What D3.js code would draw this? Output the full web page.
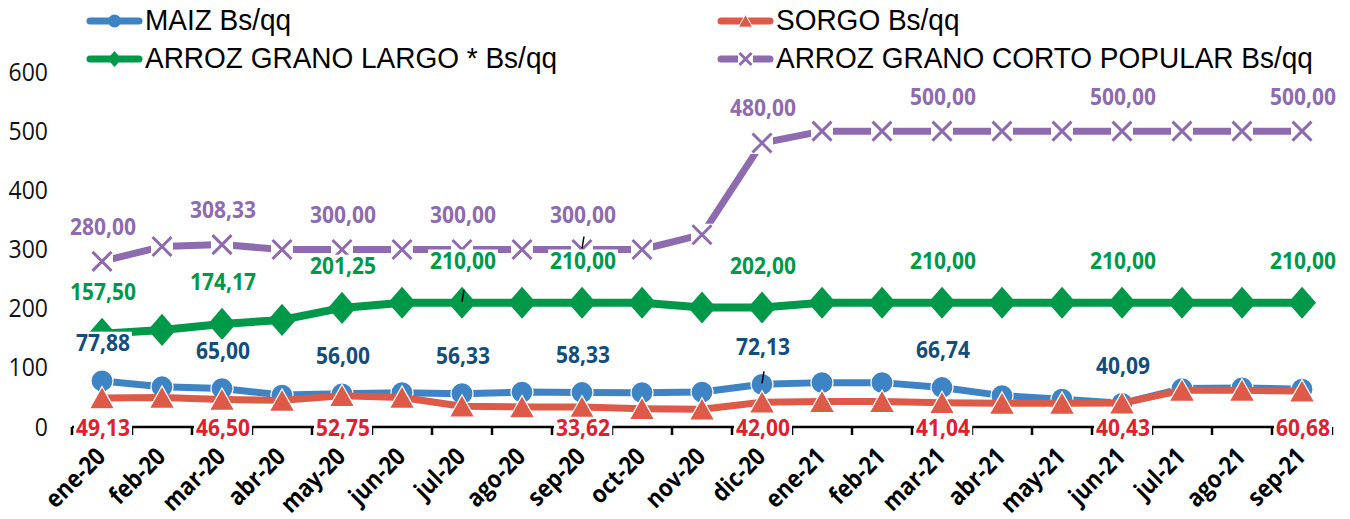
<!DOCTYPE html>
<html>
<head>
<meta charset="utf-8">
<script src="https://cdnjs.cloudflare.com/ajax/libs/d3/7.8.5/d3.min.js"></script>
<style>
  html, body { margin: 0; padding: 0; background: #fff; }
  svg { display: block; }
</style>
</head>
<body>
<svg width="1350" height="519"></svg>
<script>
// categorias (meses)
const meses = ['ene-20', 'feb-20', 'mar-20', 'abr-20', 'may-20', 'jun-20', 'jul-20', 'ago-20',
  'sep-20', 'oct-20', 'nov-20', 'dic-20', 'ene-21', 'feb-21', 'mar-21', 'abr-21', 'may-21',
  'jun-21', 'jul-21', 'ago-21', 'sep-21'];

// precios Bs/qq
const maiz = [77.88, 68, 65.00, 54, 56.00, 58, 56.33, 59, 58.33, 58, 59, 72.13, 75, 75,
  66.74, 53, 47, 40.09, 65, 66, 64];
const sorgo = [49.13, 50, 46.50, 45, 52.75, 50, 35, 34, 33.62, 31, 30, 42.00, 43, 43,
  41.04, 40, 40, 40.43, 62, 62, 60.68];
const arrozLargo = [157.50, 164, 174.17, 181, 201.25, 210, 210.00, 210, 210.00, 210, 202,
  202.00, 210, 210, 210.00, 210, 210, 210.00, 210, 210, 210.00];
const arrozCorto = [280.00, 305, 308.33, 300, 300.00, 300, 300.00, 300, 300.00, 300, 325,
  480.00, 500, 500, 500.00, 500, 500, 500.00, 500, 500, 500.00];

// puntos con etiqueta de dato (indices)
const etiqMaiz = [0, 2, 4, 6, 8, 11, 14, 17];
const etiqSorgo = [0, 2, 4, 8, 11, 14, 17, 20];
const etiqLargo = [0, 2, 4, 6, 8, 11, 14, 17, 20];
const etiqCorto = [0, 2, 4, 6, 8, 11, 14, 17, 20];

// lineas guia de etiquetas movidas: [serie, indice]
const guias = [[0, 11], [2, 6], [3, 8]];

const yTicks = [0, 100, 200, 300, 400, 500, 600];

const svg = d3.select('svg');

const x = d3.scaleBand().domain(meses).range([72, 1332]).padding(0);
const y = d3.scaleLinear().domain([0, 600]).range([427, 72]);
const cx = (i) => x(meses[i]) + x.bandwidth() / 2;

const fmt = d3.formatLocale({ decimal: ',', thousands: '.', grouping: [3], currency: ['', ''] }).format('.2f');

// marker shapes
const shapes = {
  circle: (s) => `M${-s},0A${s},${s} 0 1,0 ${s},0A${s},${s} 0 1,0 ${-s},0Z`,
  triangle: (s) => `M0,${-s}L${s * 1.1},${s * 0.95}L${-s * 1.1},${s * 0.95}Z`,
  diamond: (s) => `M0,${-s * 1.15}L${s},0L0,${s * 1.15}L${-s},0Z`,
  cross: (s) => `M${-s},${-s}L${s},${s}M${s},${-s}L${-s},${s}`,
};

const series = [
  { name: 'MAIZ Bs/qq', values: maiz, color: '#3E84C4', labelColor: '#124D7B', shape: 'circle', size: 11, legSize: 6.5, width: 7, labels: etiqMaiz, pos: 'above', dy: -38 },
  { name: 'SORGO Bs/qq', values: sorgo, color: '#DD5A49', labelColor: '#E0202E', shape: 'triangle', size: 11.5, legSize: 6.5, width: 7, labels: etiqSorgo, pos: 'below', dy: 28 },
  { name: 'ARROZ GRANO LARGO * Bs/qq', values: arrozLargo, color: '#00994A', labelColor: '#00994A', shape: 'diamond', size: 14, legSize: 7, width: 8, labels: etiqLargo, pos: 'above', dy: -42 },
  { name: 'ARROZ GRANO CORTO POPULAR Bs/qq', values: arrozCorto, color: '#8E6BAE', labelColor: '#8E6BAE', shape: 'cross', size: 9.5, legSize: 7, width: 7, labels: etiqCorto, pos: 'above', dy: -35 },
];

// y axis labels (no line)
const yAxis = svg.append('g').attr('transform', 'translate(48,0)')
  .call(d3.axisLeft(y).tickValues(yTicks).tickSize(0).tickPadding(0));
yAxis.select('.domain').remove();
yAxis.selectAll('text')
  .attr('font-family', '"Open Sans", sans-serif')
  .attr('font-size', 23)
  .attr('transform', 'scale(1,1.1)')
  .attr('fill', '#111');

// x axis
const xAxis = svg.append('g').attr('transform', `translate(0,${y(0)})`)
  .call(d3.axisBottom(x).tickSize(0).tickFormat(''));
xAxis.select('.domain').attr('stroke', '#000').attr('stroke-width', 2.5).attr('d', 'M72,0H1332');
xAxis.selectAll('.tick').remove();
const bounds = meses.map((m) => x(m)).concat([x(meses[meses.length - 1]) + x.bandwidth()]);
xAxis.selectAll('line.sep')
  .data(bounds)
  .enter()
  .append('line')
  .attr('class', 'sep')
  .attr('x1', (d) => d)
  .attr('x2', (d) => d)
  .attr('y1', 0)
  .attr('y2', 8)
  .attr('stroke', '#000')
  .attr('stroke-width', 2.5);

svg.append('g')
  .selectAll('text')
  .data(meses)
  .enter()
  .append('text')
  .attr('transform', (d, i) => `translate(${cx(i) + 5},458) rotate(-45) scale(1,1.12)`)
  .attr('text-anchor', 'end')
  .attr('font-family', '"Open Sans", sans-serif')
  .attr('font-weight', 700)
  .attr('font-size', 22)
  .attr('fill', '#000')
  .text((d) => d);

// lines and markers
const line = d3.line().x((d, i) => cx(i)).y((d) => y(d));

series.forEach((s) => {
  const g = svg.append('g');
  g.append('path')
    .attr('d', line(s.values))
    .attr('fill', 'none')
    .attr('stroke', s.color)
    .attr('stroke-width', s.width)
    .attr('stroke-linejoin', 'round');

  const m = g.selectAll('g.m')
    .data(s.values)
    .enter()
    .append('g')
    .attr('class', 'm')
    .attr('transform', (d, i) => `translate(${cx(i)},${y(d)})`);

  if (s.shape === 'cross') {
    m.append('rect')
      .attr('x', -s.size - 1.5).attr('y', -s.size - 1.5)
      .attr('width', 2 * s.size + 3).attr('height', 2 * s.size + 3)
      .attr('fill', '#fff');
    m.append('path')
      .attr('d', shapes.cross(s.size))
      .attr('stroke', s.color)
      .attr('stroke-width', 3)
      .attr('fill', 'none');
  } else {
    m.append('path')
      .attr('d', shapes[s.shape](s.size))
      .attr('fill', s.color)
      .attr('stroke', s.shape === 'diamond' ? 'none' : '#fff')
      .attr('stroke-width', 1.2);
  }
});

// leader lines
svg.append('g')
  .selectAll('line')
  .data(guias)
  .enter()
  .append('line')
  .attr('x1', (d) => cx(d[1]) + 2)
  .attr('x2', (d) => cx(d[1]))
  .attr('y1', (d) => y(series[d[0]].values[d[1]]) - 13)
  .attr('y2', (d) => y(series[d[0]].values[d[1]]) - 1)
  .attr('stroke', '#000')
  .attr('stroke-width', 1.5);

// data labels with white box
series.forEach((s) => {
  const g = svg.append('g');
  s.labels.forEach((i) => {
    const v = s.values[i];
    const ly = s.pos === 'below' ? y(0) + 1 : y(v) + s.dy;
    const lg = g.append('g').attr('transform', `translate(${cx(i) + 1},${ly}) scale(1,1.12)`);
    const t = lg.append('text')
      .attr('text-anchor', 'middle')
      .attr('dy', '0.36em')
      .attr('font-family', '"Open Sans", sans-serif')
      .attr('font-weight', 700)
      .attr('font-size', 21)
      .attr('fill', s.labelColor)
      .text(fmt(v));
    const bb = t.node().getBBox();
    lg.insert('rect', 'text')
      .attr('x', bb.x - 2)
      .attr('y', bb.y + 5)
      .attr('width', bb.width + 4)
      .attr('height', bb.height - 9)
      .attr('fill', '#fff');
  });
});

// legend
const legPos = [[87, 21], [718, 21], [87, 59], [718, 59]];
series.forEach((s, j) => {
  const [lx, ly] = legPos[j];
  const g = svg.append('g').attr('transform', `translate(${lx},${ly})`);
  g.append('line')
    .attr('x1', 3).attr('x2', 52)
    .attr('y1', 0).attr('y2', 0)
    .attr('stroke', s.color)
    .attr('stroke-width', 7)
    .attr('stroke-linecap', 'round');
  if (s.shape === 'cross') {
    g.append('rect').attr('x', 20).attr('y', -8).attr('width', 15).attr('height', 16).attr('fill', '#fff');
    g.append('path')
      .attr('transform', 'translate(27.5,0)')
      .attr('d', shapes.cross(6))
      .attr('stroke', s.color)
      .attr('stroke-width', 3);
  } else {
    g.append('path')
      .attr('transform', 'translate(27.5,0)')
      .attr('d', shapes[s.shape](s.legSize))
      .attr('fill', s.color)
      .attr('stroke', s.shape === 'triangle' ? '#fff' : 'none')
      .attr('stroke-width', 1);
  }
  g.append('text')
    .attr('x', 58)
    .attr('y', 9)
    .attr('transform', 'scale(1,1.05)')
    .attr('font-family', '"Liberation Sans", Arial, sans-serif')
    .attr('font-size', 28)
    .attr('fill', '#000')
    .text(s.name);
});
</script>
</body>
</html>
